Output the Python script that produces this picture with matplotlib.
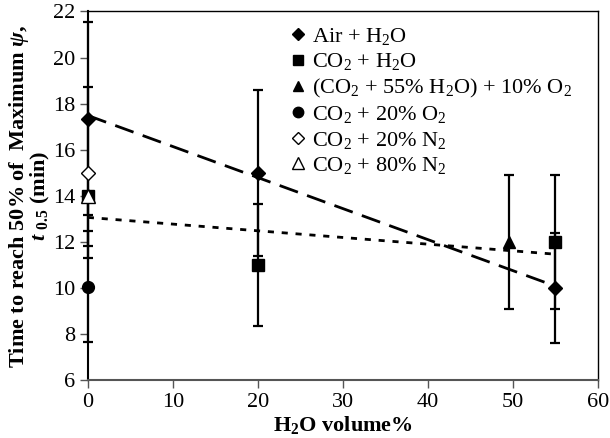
import matplotlib
matplotlib.use("Agg")
import matplotlib.pyplot as plt
import numpy as np
from matplotlib.lines import Line2D

plt.rcParams['font.family'] = ['Liberation Serif', 'DejaVu Serif']
plt.rcParams['mathtext.fontset'] = 'custom'
plt.rcParams['mathtext.rm'] = 'Liberation Serif'
plt.rcParams['mathtext.bf'] = 'Liberation Serif:bold'
plt.rcParams['mathtext.it'] = 'Liberation Serif:bold:italic'

# ---- data ----
x_air = [0, 20, 55]
y_air = [17.35, 15.0, 10.0]
e_air = [4.2, 3.6, 2.4]

x_co2h2o = [0, 20, 55]
y_co2h2o = [14.0, 11.0, 12.0]
e_co2h2o_low = [2.2, 2.65, 2.9]
e_co2h2o_up = [0.0, 2.65, 2.9]

x_co2h2o_o2 = [49.6]
y_co2h2o_o2 = [12.0]
e_co2h2o_o2 = [2.9]

x_co2_o2 = [0]
y_co2_o2 = [10.05]
e_co2_o2 = [2.4]

x_co2_20n2 = [0]
y_co2_20n2 = [15.0]
e_co2_20n2 = [3.7]

x_co2_80n2 = [0]
y_co2_80n2 = [14.0]

labels = ["Air + H$_2$O", "CO$_2$ + H$_2$O", "(CO$_2$ + 55% H$_2$O) + 10% O$_2$",
          "CO$_2$ + 20% O$_2$", "CO$_2$ + 20% N$_2$", "CO$_2$ + 80% N$_2$"]

x_ticks = [0, 10, 20, 30, 40, 50, 60]
y_ticks = [6, 8, 10, 12, 14, 16, 18, 20, 22]

fig = plt.figure(figsize=(6.1, 4.38), dpi=100)
ax = fig.add_axes([0.144, 0.1324, 0.836, 0.8414])

# trendlines
xs = np.array([0, 55])
p_air = np.polyfit(x_air, y_air, 1)
p_co2 = np.polyfit(x_co2h2o, y_co2h2o, 1)
ax.plot(xs, np.polyval(p_air, xs), color='black', lw=2.0, dashes=(7, 3.5), zorder=2)
ax.plot(xs, np.polyval(p_co2, xs), color='black', lw=2.0, dashes=(2.2, 2.8), zorder=2)

eb_kw = dict(fmt='none', ecolor='black', elinewidth=1.6, capsize=3.6, capthick=1.6, zorder=3, clip_on=False)
for xx, yy, ee in [(x_air, y_air, e_air), (x_co2h2o, y_co2h2o, [e_co2h2o_low, e_co2h2o_up]),
                   (x_co2h2o_o2, y_co2h2o_o2, e_co2h2o_o2), (x_co2_o2, y_co2_o2, e_co2_o2),
                   (x_co2_20n2, y_co2_20n2, e_co2_20n2)]:
    ax.errorbar(xx, yy, yerr=ee, **eb_kw)

mk = dict(linestyle='none', markeredgecolor='black', zorder=4, clip_on=False)
ax.plot(x_co2h2o, y_co2h2o, marker='s', ms=8, color='black', **mk)
ax.plot(x_air, y_air, marker='D', ms=7, color='black', **mk)
ax.plot(x_co2h2o_o2, y_co2h2o_o2, marker='^', ms=9, color='black', **mk)
ax.plot(x_co2_o2, y_co2_o2, marker='o', ms=8.5, color='black', **mk)
ax.plot(x_co2_20n2, y_co2_20n2, marker='D', ms=7, markerfacecolor='white', **mk)
ax.plot(x_co2_80n2, y_co2_80n2, marker='^', ms=9.5, markerfacecolor='white', **mk)

handles = [
    Line2D([], [], ls='none', marker='D', ms=6, color='black'),
    Line2D([], [], ls='none', marker='s', ms=7, color='black'),
    Line2D([], [], ls='none', marker='^', ms=7.5, color='black'),
    Line2D([], [], ls='none', marker='o', ms=7.5, color='black'),
    Line2D([], [], ls='none', marker='D', ms=6, markerfacecolor='white', markeredgecolor='black'),
    Line2D([], [], ls='none', marker='^', ms=8, markerfacecolor='white', markeredgecolor='black'),
]
ax.legend(handles, labels, loc='upper left', bbox_to_anchor=(0.38, 0.985), frameon=False,
          fontsize=16, handlelength=0.7, handletextpad=0.25, labelspacing=0.2, borderaxespad=0)

ax.set_xlim(0, 60)
ax.set_ylim(6, 22)
ax.set_xticks(x_ticks)
ax.set_yticks(y_ticks)
ax.tick_params(axis='both', labelsize=16, direction='out', length=6, width=1, color='#555555', pad=3)
for s in ['top', 'right']:
    ax.spines[s].set_linewidth(1.0)
    ax.spines[s].set_color('black')
ax.spines['bottom'].set_color('#555555')
ax.spines['bottom'].set_linewidth(1.5)
ax.spines['left'].set_color('black')
ax.spines['left'].set_linewidth(1.5)

ax.set_xlabel(r"H$_\mathbf{2}$O volume%", fontsize=16, fontweight='bold', labelpad=2)
ax.set_ylabel("Time to reach 50% of  Maximum $\\psi$,\n$t$ $_{\\mathbf{0.5}}$ (min)",
              fontsize=16, fontweight='bold', linespacing=0.85, labelpad=1)

fig.savefig("out.png", dpi=100)
